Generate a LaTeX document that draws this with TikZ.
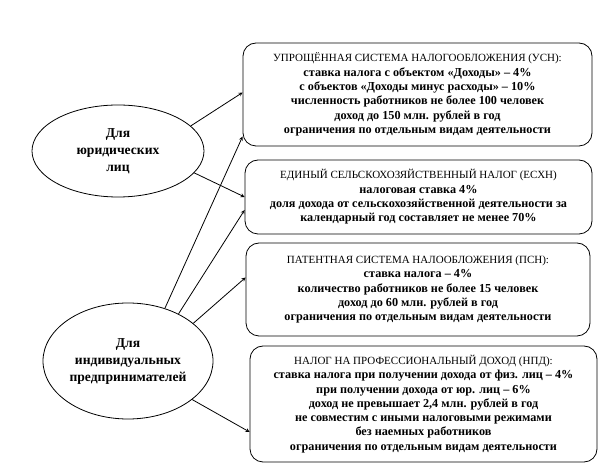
\documentclass[tikz,border=0pt]{standalone}
\usepackage{fontspec}
\setmainfont{Liberation Serif}
\usepackage{tikz}
\usetikzlibrary{shapes.geometric}

\begin{document}
\begin{tikzpicture}[x=1pt,y=1pt,>=stealth,
  kind/.style={draw,thick,ellipse,inner sep=0pt,align=center,font=\fontsize{13.6}{17}\selectfont\bfseries},
  regime/.style={draw,thick,rounded corners=13pt,inner sep=0pt,align=center,font=\fontsize{12.2}{14.3}\selectfont\bfseries},
  link/.style={->,thick}]
\useasboundingbox[fill=white](0,0)rectangle(600,468);
\node[kind,minimum width=172,minimum height=92](ul)at(118,317){Для\\юридических\\лиц};
\node[kind,minimum width=170,minimum height=116](ip)at(128,107){Для\\индивидуальных\\предпринимателей};
\node[regime,minimum width=349,minimum height=103](usn)at(417.5,373.5){{\fontsize{11}{14.3}\selectfont\mdseries УПРОЩЁННАЯ СИСТЕМА НАЛОГООБЛОЖЕНИЯ (УСН):}\\ставка налога с объектом «Доходы» – 4\%\\с объектов «Доходы минус расходы» – 10\%\\численность работников не более 100 человек\\доход до 150 млн. рублей в год\\ограничения по отдельным видам деятельности};
\node[regime,minimum width=347,minimum height=74](eshn)at(418.5,271){{\fontsize{11}{14.3}\selectfont\mdseries ЕДИНЫЙ СЕЛЬСКОХОЗЯЙСТВЕННЫЙ НАЛОГ (ЕСХН)}\\налоговая ставка 4\%\\доля дохода от сельскохозяйственной деятельности за\\календарный год составляет не менее 70\%};
\node[regime,minimum width=344,minimum height=93](psn)at(418,178.5){{\fontsize{11}{14.3}\selectfont\mdseries ПАТЕНТНАЯ СИСТЕМА НАЛООБЛОЖЕНИЯ (ПСН):}\\ставка налога – 4\%\\количество работников не более 15 человек\\доход до 60 млн. рублей в год\\ограничения по отдельным видам деятельности};
\node[regime,minimum width=347,minimum height=116](npd)at(423.5,64){{\fontsize{11}{14.3}\selectfont\mdseries НАЛОГ НА ПРОФЕССИОНАЛЬНЫЙ ДОХОД (НПД):}\\ставка налога при получении дохода от физ. лиц – 4\%\\при получении дохода от юр. лиц – 6\%\\доход не превышает 2,4 млн. рублей в год\\не совместим с иными налоговыми режимами\\без наемных работников\\ограничения по отдельным видам деятельности};
\draw[link](ul.19)--([yshift=2pt]usn.west);
\draw[link](ul.-16)--(eshn.west);
\draw[link](ip.55)--([yshift=-42pt]usn.west);
\draw[link](ip.43)--([yshift=-13pt]eshn.west);
\draw[link](ip.30)--([yshift=12pt]psn.west);
\draw[link](ip.-31)--([yshift=-28pt]npd.west);
\end{tikzpicture}
\end{document}
